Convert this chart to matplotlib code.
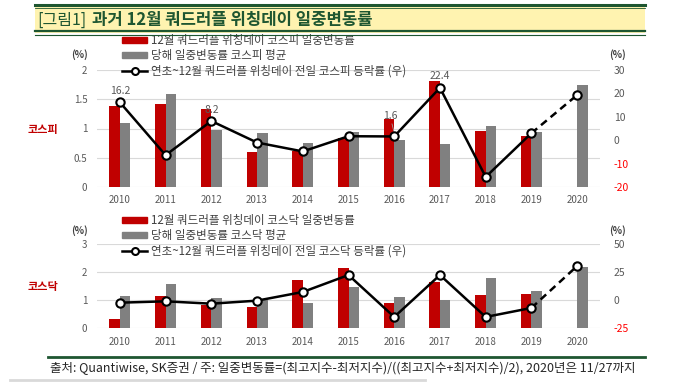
import numpy as np
import matplotlib.pyplot as plt
from matplotlib.patches import Rectangle
from matplotlib.lines import Line2D
from matplotlib.patches import Patch

plt.rcParams['font.family'] = ['Noto Sans CJK KR', 'DejaVu Sans']

years = ['2010', '2011', '2012', '2013', '2014', '2015', '2016', '2017', '2018', '2019', '2020']

kospi_day = [1.38, 1.42, 1.33, 0.59, 0.61, 0.83, 1.16, 1.81, 0.96, 0.88, np.nan]
kospi_avg = [1.09, 1.59, 0.97, 0.93, 0.75, 0.94, 0.81, 0.74, 1.04, 0.94, 1.74]
kospi_ret = [16.2, -6.4, 8.2, -1.0, -4.8, 1.7, 1.6, 22.4, -15.7, 3.0, 19.3]

kosdaq_day = [0.33, 1.15, 0.83, 0.75, 1.73, 2.16, 0.91, 1.65, 1.19, 1.21, np.nan]
kosdaq_avg = [1.15, 1.59, 1.08, 1.02, 0.91, 1.46, 1.12, 1.01, 1.78, 1.32, 2.19]
kosdaq_ret = [-2.2, -1.0, -3.1, -0.4, 7.3, 22.4, -14.9, 22.4, -14.9, -6.9, 30.4]

RED = '#C00000'
GRAY = '#808080'
TXT = '#595959'
GREEN = '#1E5631'

fig = plt.figure(figsize=(6.8, 3.82), dpi=100)

# title bar
fig.patches.append(Rectangle((35/680, 1-33/382), 610/680, 27/382, transform=fig.transFigure,
                             facecolor='#FFF3B0', edgecolor='none'))
for yy, lw in [(5, 2.2), (8, 0.6), (31, 1.6), (34.5, 0.8)]:
    fig.add_artist(Line2D([35/680, 645/680], [1-yy/382, 1-yy/382], color=GREEN, lw=lw,
                          transform=fig.transFigure))
fig.text(37/680, 1-20/382, '[그림1]', color=GREEN, fontsize=11.5, va='center', fontweight='light')
fig.text(92/680, 1-20/382, '과거 12월 쿼드러플 위칭데이 일중변동률', color=GREEN, fontsize=12,
         va='center', fontweight='bold')

# footer
fig.add_artist(Line2D([48/680, 645/680], [1-357/382, 1-357/382], color=GREEN, lw=2,
                      transform=fig.transFigure))
fig.add_artist(Line2D([10/680, 425/680], [1-380/382, 1-380/382], color='#D9D9D9', lw=2,
                      transform=fig.transFigure))
fig.text(50/680, 1-368/382, '출처: Quantiwise, SK증권 / 주: 일중변동률=(최고지수-최저지수)/((최고지수+최저지수)/2), 2020년은 11/27까지',
         fontsize=9.0, color='#262626', va='center')

x = np.arange(len(years))
w = 0.23


def panel(rect, day, avg, ret, lim_l, ticks_l, lim_r, ticks_r, name, labels, ylab_y, legend_y):
    ax = fig.add_axes(rect)
    ax.bar(x - w/2, day, w, color=RED, zorder=2)
    ax.bar(x + w/2, avg, w, color=GRAY, zorder=2)
    ax.set_xlim(-0.5, len(years) - 0.5)
    ax.set_ylim(*lim_l)
    ax.set_yticks(ticks_l)
    ax.set_yticklabels([f'{t:g}' for t in ticks_l])
    ax.set_xticks(x)
    ax.set_xticklabels(years)
    ax.grid(axis='y', color='#D9D9D9', lw=0.8, zorder=0)
    ax.tick_params(length=0, labelsize=7, colors=TXT, pad=6)
    ax.tick_params(axis='y', pad=7)
    for s in ax.spines.values():
        s.set_visible(False)
    ax.set_axisbelow(True)

    ax2 = ax.twinx()
    ax2.plot(x[:10], ret[:10], color='black', lw=1.8, marker='o', ms=6,
             mfc='white', mec='black', mew=1.5, zorder=5)
    ax2.plot(x[9:], ret[9:], color='black', lw=1.8, ls=(0, (3, 2)), zorder=4)
    ax2.plot(x[10:], ret[10:], ls='none', marker='o', ms=6, mfc='white', mec='black',
             mew=1.5, zorder=5)
    ax2.set_ylim(*lim_r)
    ax2.set_yticks(ticks_r)
    ax2.set_yticklabels([f'{t:g}' for t in ticks_r])
    ax2.tick_params(length=0, labelsize=7.5, colors=TXT, pad=10)
    for t, lab in zip(ticks_r, ax2.get_yticklabels()):
        if t < 0:
            lab.set_color('#FF0000')
    for s in ax2.spines.values():
        s.set_visible(False)

    fig.text(80/680, 1-ylab_y/382, '(%)', fontsize=7, color='#404040', fontweight='bold', ha='center')
    fig.text(618/680, 1-ylab_y/382, '(%)', fontsize=7, color='#404040', fontweight='bold', ha='center')
    fig.text(43/680, rect[1] + rect[3]*0.46, name, fontsize=8, color=RED, fontweight='bold', ha='center')

    handles = [Patch(color=RED), Patch(color=GRAY),
               Line2D([], [], color='black', lw=1.8, marker='o', ms=5, mfc='white', mec='black', mew=1.5)]
    leg = ax.legend(handles, labels, loc='upper left', bbox_to_anchor=(122/680, 1-legend_y/382),
                    bbox_transform=fig.transFigure, frameon=False, fontsize=8.3,
                    handlelength=2.2, handleheight=0.5, handletextpad=0.3, labelspacing=0.2,
                    borderaxespad=0, borderpad=0)
    for t in leg.get_texts():
        t.set_color('#404040')
    return ax, ax2


ax, ax2 = panel([97/680, 1-187/382, 503/680, 117/382], kospi_day, kospi_avg, kospi_ret,
                (0, 2), [0, 0.5, 1, 1.5, 2], (-20, 30), [-20, -10, 0, 10, 20, 30], '코스피',
                ['12월 쿼드러플 위칭데이 코스피 일중변동률', '당해 일중변동률 코스피 평균',
                 '연초~12월 쿼드러플 위칭데이 전일 코스피 등락률 (우)'], 58, 34)

for i in [0, 2, 7]:
    ax2.annotate(f'{kospi_ret[i]:.1f}', (x[i], kospi_ret[i]), xytext=(0, 6),
                 textcoords='offset points', ha='center', fontsize=7.5, color=TXT)
ax2.annotate(f'{kospi_ret[6]:.1f}', (x[6], kospi_ret[6] + 1.5), xytext=(-3, 10),
             textcoords='offset points', ha='center', fontsize=7.5, color=TXT,
             arrowprops=dict(arrowstyle='-', color='#A6A6A6', lw=0.6, shrinkA=0, shrinkB=0))

panel([97/680, 1-328.3/382, 503/680, 84.3/382], kosdaq_day, kosdaq_avg, kosdaq_ret,
      (0, 3), [0, 1, 2, 3], (-25, 50), [-25, 0, 25, 50], '코스닥',
      ['12월 쿼드러플 위칭데이 코스닥 일중변동률', '당해 일중변동률 코스닥 평균',
       '연초~12월 쿼드러플 위칭데이 전일 코스닥 등락률 (우)'], 234, 214)

fig.savefig('out.png', dpi=100)
